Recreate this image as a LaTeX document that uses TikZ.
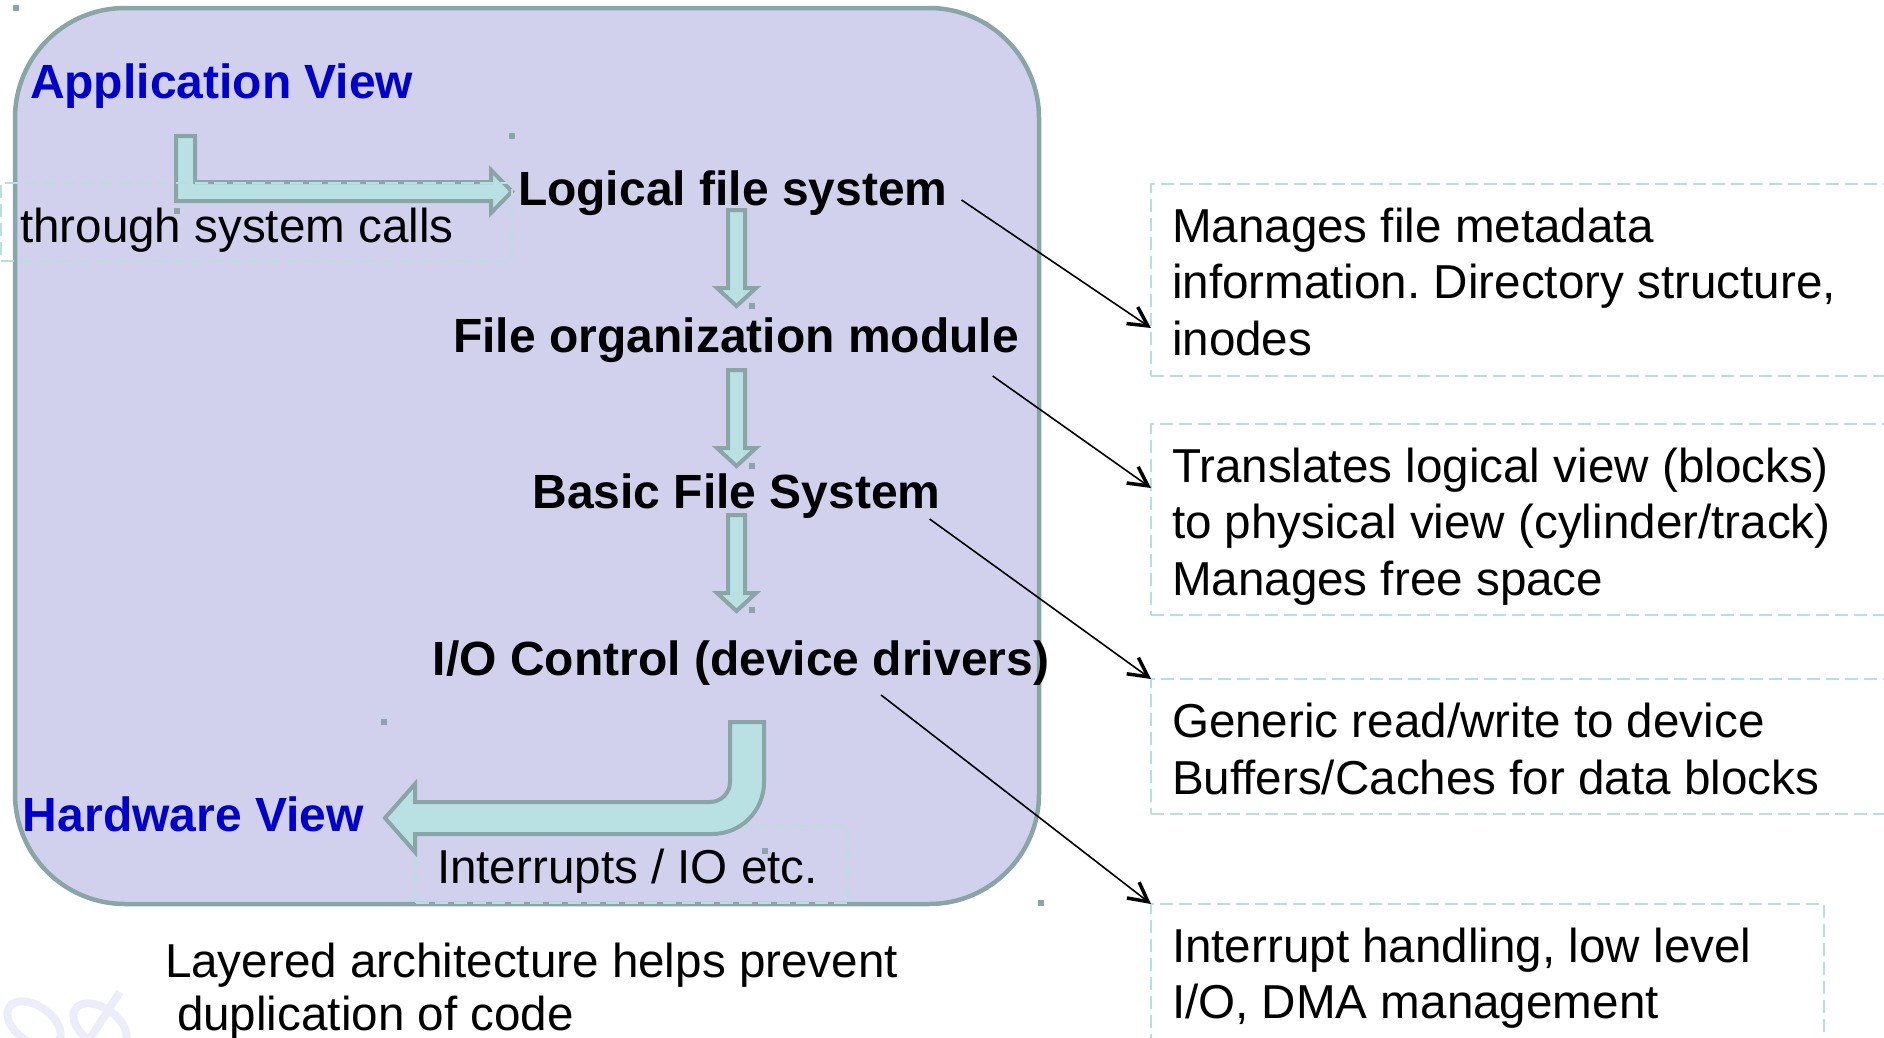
\documentclass[tikz,border=0pt]{standalone}
\usepackage{fontspec}
\setmainfont{Liberation Sans}
\usetikzlibrary{arrows.meta,calc}
\frenchspacing

\definecolor{panelfill}{RGB}{209,209,238}
\definecolor{panelline}{RGB}{138,165,165}
\definecolor{flowfill}{RGB}{185,224,227}
\definecolor{noteline}{RGB}{183,223,226}
\definecolor{viewblue}{RGB}{0,0,204}
\definecolor{logofaint}{RGB}{236,236,250}

\begin{document}
\begin{tikzpicture}[x=1pt,y=-1pt,
  every node/.style={inner sep=0pt,outer sep=0pt},
  txt/.style={font=\fontsize{47.6}{57}\selectfont},
  bold/.style={font=\fontsize{48}{57}\selectfont\bfseries},
  panel/.style={draw=panelline,fill=panelfill,line width=4.5pt,rounded corners=110pt},
  notebox/.style={draw=noteline,line width=2pt,dash pattern=on 13pt off 6pt},
  flow/.style={draw=panelline,fill=flowfill,line width=4pt,line join=miter},
  pointer/.style={draw=black,line width=1.6pt,
    -{Straight Barb[length=19pt,width=20pt,line width=3.5pt]}},
  handle/.style={fill=panelline}]

\useasboundingbox (0,0) rectangle (1884,1037);
\clip (0,0) rectangle (1884,1037);

% faint logo fragment in the lower left corner
\begin{scope}[logofaint,line width=8pt]
  \draw[rotate around={-35:(34,1024)}] (34,1024) ellipse [x radius=30pt,y radius=18pt];
  \draw[rotate around={-35:(100,1026)}] (100,1026) ellipse [x radius=30pt,y radius=18pt];
  \draw (86,1045) -- (120,992);
\end{scope}

% layered file-system panel
\node[panel,minimum width=1024pt,minimum height=896pt] (panel) at (527,456) {};

% text frame under the hardware arrow
\node[notebox,minimum width=432pt,minimum height=77pt] (irqbox) at (632,864.5) {};

% hardware-side bent arrow
\draw[flow] (730,722) -- (764,722) -- (764,782)
  .. controls (764,811) and (741,834) .. (712,834)
  -- (415,834) -- (415,852) -- (385,818) -- (415,784) -- (415,802)
  -- (710,802) .. controls (721,802) and (730,793) .. (730,782) -- cycle;

% downward arrows between the layers
\foreach \dy in {0,160,305}{
  \draw[flow,shift={(0,\dy)}] (728,210) -- (745,210) -- (745,288) -- (756,288)
    -- (736.5,306) -- (717,288) -- (728,288) -- cycle;
}

% application-side bent arrow
\draw[flow] (176,136) -- (195,136) -- (195,182) -- (491,182) -- (491,170)
  -- (512,191.5) -- (491,213) -- (491,201) -- (176,201) -- cycle;

% text frame of the system-call label
\node[notebox,minimum width=511pt,minimum height=78pt] (sysbox) at (256.5,222) {};

% description frames on the right
\node[notebox,minimum width=799pt,minimum height=192pt] (d1) at (1550.5,280) {};
\node[notebox,minimum width=799pt,minimum height=191pt] (d2) at (1550.5,519.5) {};
\node[notebox,minimum width=799pt,minimum height=135pt] (d3) at (1550.5,746.5) {};
\node[notebox,minimum width=673pt,minimum height=196pt] (d4) at (1487.5,1002) {};

% selection handles
\foreach \p in {(16,8),(512,136),(177,211),(384,722),(765,851),(1041,903),
                (752,306),(752,466),(752,610)}
  \fill[handle] \p ++(-3,-3) rectangle ++(6,6);

% labels inside the panel
\node[bold,text=viewblue,anchor=base west] (app) at (30,98) {Application View};
\node[bold,anchor=base west] (lfs) at (518,205) {Logical file system};
\node[txt,anchor=base west] (sys) at (20,242) {through system calls};
\node[bold,anchor=base] (fom) at (736,352) {File organization module};
\node[bold,anchor=base] (bfs) at (736.5,508) {Basic File System};
\node[bold,anchor=base] (ioc) at (741,675) {I/O Control (device drivers)};
\node[bold,text=viewblue,anchor=base west] (hw) at (23,831) {Hardware View};
\node[txt,anchor=base west] (irq) at (437,883) {Interrupts / IO etc.};

% caption below the panel
\node[txt,anchor=base west] (lay1) at (165,977) {Layered architecture helps prevent};
\node[txt,anchor=base west] (lay2) at (177,1030) {duplication of code};

% descriptions
\node[txt,anchor=base west] (d1a) at (1172,242) {Manages file metadata};
\node[txt,anchor=base west] (d1b) at (1172,298) {information. Directory structure,};
\node[txt,anchor=base west] (d1c) at (1172,355) {inodes};
\node[txt,anchor=base west] (d2a) at (1172,482) {Translates logical view (blocks)};
\node[txt,anchor=base west] (d2b) at (1172,538) {to physical view (cylinder/track)};
\node[txt,anchor=base west] (d2c) at (1172,595) {Manages free space};
\node[txt,anchor=base west] (d3a) at (1172,737) {Generic read/write to device};
\node[txt,anchor=base west] (d3b) at (1172,794) {Buffers/Caches for data blocks};
\node[txt,anchor=base west] (d4a) at (1172,962) {Interrupt handling, low level};
\node[txt,anchor=base west] (d4b) at (1172,1018) {I/O, DMA management};

% pointers from each layer to its description
\coordinate (p1) at ($(lfs.base east)+(14,-5)$);
\coordinate (p2) at ($(fom.base east)+(-26,24)$);
\coordinate (p3) at ($(bfs.base east)+(-11,11)$);
\coordinate (p4) at ($(ioc.base east)+(-168,20)$);
\draw[pointer] (p1) -- ($(d1.north west)!0.75!(d1.south west)$);
\draw[pointer] (p2) -- ($(d2.north west)!0.335!(d2.south west)$);
\draw[pointer] (p3) -- (d3.north west);
\draw[pointer] (p4) -- (d4.north west);

\end{tikzpicture}
\end{document}
